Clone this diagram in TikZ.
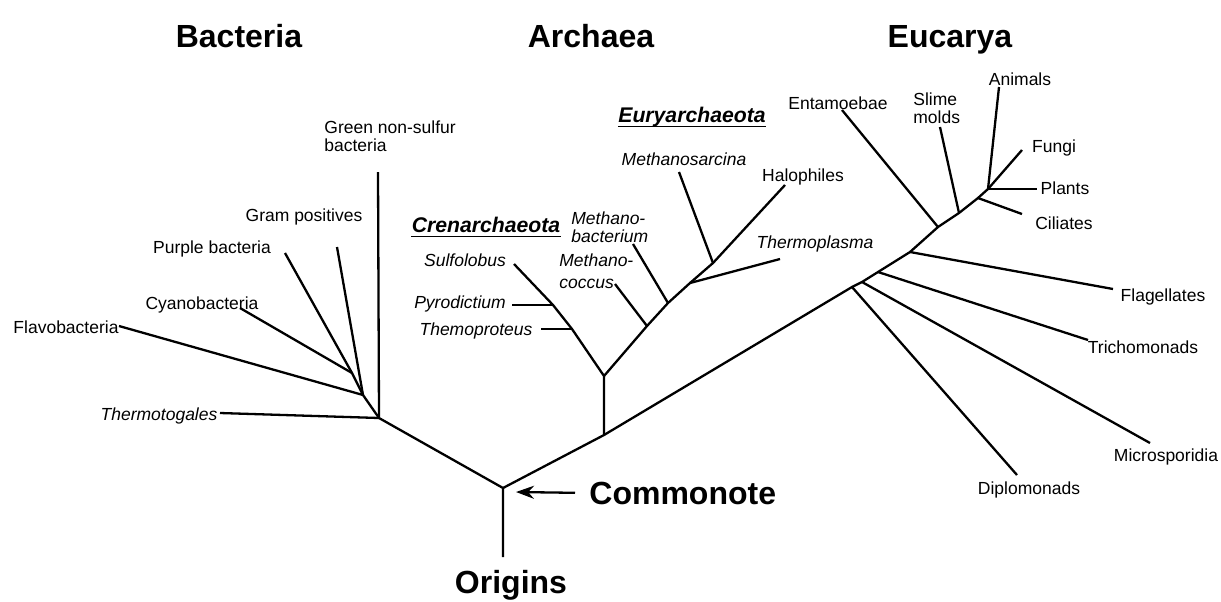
\documentclass[tikz,border=0pt]{standalone}
\usepackage{fontspec}
\setmainfont{Liberation Sans}
\usetikzlibrary{arrows.meta,positioning,calc}
\definecolor{Ink}{HTML}{000000}
\newcommand{\Leaf}[4]{%
  \node[#1] (#2) at (#3) {#4};%
}

\begin{document}
\begin{tikzpicture}[x=0.5pt,y=-0.5pt,
  branch/.style={Ink,line width=1.15pt,line join=round},
  taxon/.style={inner sep=0pt,anchor=base,text=Ink,font=\fontsize{8.75}{9}\selectfont},
  genus/.style={taxon,font=\fontsize{8.75}{9}\selectfont\itshape},
  realm/.style={inner sep=0pt,anchor=base,text=Ink,font=\fontsize{16}{18}\selectfont\bfseries},
  phylum/.style={inner sep=0pt,anchor=base,text=Ink,font=\fontsize{10.6}{12}\selectfont\bfseries\itshape}]
\useasboundingbox (0,0) rectangle (1221,601);
\fill[white] (0,0) rectangle (1221,601);

% tree points
\coordinate (orig) at (503,557);
\coordinate (com) at (503,488);
\coordinate (bj) at (379,418);
\coordinate (bf) at (363,395);
\coordinate (bc) at (352,373);
\coordinate (aj) at (604,435);
\coordinate (arc) at (604,376);
\coordinate (thj) at (572,329);
\coordinate (pyj) at (553,305);
\coordinate (mcj) at (647,326);
\coordinate (mbj) at (668,303);
\coordinate (tpj) at (690,283);
\coordinate (msj) at (713,263);
\coordinate (dpj) at (852,287);
\coordinate (mij) at (862,282);
\coordinate (trj) at (878,272);
\coordinate (flj) at (910,252);
\coordinate (enj) at (938,227);
\coordinate (slj) at (959,213);
\coordinate (cij) at (978,198);
\coordinate (crown) at (988,189);

% branch tips
\coordinate (tGreen) at (378,172);
\coordinate (tTherm) at (220,413);
\coordinate (tFlavo) at (119,326);
\coordinate (tCyano) at (240,308);
\coordinate (tPurple) at (285,253);
\coordinate (tGram) at (337,247);
\coordinate (tSulfo) at (514,264);
\coordinate (tPyro) at (512,305);
\coordinate (tThemo) at (541,329);
\coordinate (tHalo) at (785,185);
\coordinate (tMcoc) at (615,284);
\coordinate (tMbac) at (633,244);
\coordinate (tMsar) at (679,172);
\coordinate (tTplas) at (780,259);
\coordinate (tDiplo) at (1017,475);
\coordinate (tMicro) at (1150,443);
\coordinate (tTricho) at (1088,340);
\coordinate (tFlag) at (1113,289);
\coordinate (tEntam) at (842,110);
\coordinate (tSlime) at (940,127);
\coordinate (tAnimals) at (999,87);
\coordinate (tFungi) at (1022,150);
\coordinate (tPlants) at (1037,189);
\coordinate (tCiliates) at (1022,214);

% Bacteria
\draw[branch] (orig) -- (com) -- (bj) -- (bf) -- (bc) -- (tPurple);
\draw[branch] (bj) -- (tGreen);
\draw[branch] (bj) -- (tTherm);
\draw[branch] (bf) -- (tFlavo);
\draw[branch] (bf) -- (tGram);
\draw[branch] (bc) -- (tCyano);

% Archaea
\draw[branch] (com) -- (aj) -- (arc) -- (thj) -- (pyj) -- (tSulfo);
\draw[branch] (pyj) -- (tPyro);
\draw[branch] (thj) -- (tThemo);
\draw[branch] (arc) -- (mcj) -- (mbj) -- (tpj) -- (msj) -- (tHalo);
\draw[branch] (mcj) -- (tMcoc);
\draw[branch] (mbj) -- (tMbac);
\draw[branch] (msj) -- (tMsar);
\draw[branch] (tpj) -- (tTplas);

% Eucarya
\draw[branch] (aj) -- (dpj) -- (mij) -- (trj) -- (flj) -- (enj) -- (slj) -- (cij) -- (crown);
\draw[branch] (dpj) -- (tDiplo);
\draw[branch] (mij) -- (tMicro);
\draw[branch] (trj) -- (tTricho);
\draw[branch] (flj) -- (tFlag);
\draw[branch] (enj) -- (tEntam);
\draw[branch] (slj) -- (tSlime);
\draw[branch] (cij) -- (tCiliates);
\draw[branch] (crown) -- (tAnimals);
\draw[branch] (crown) -- (tFungi);
\draw[branch] (crown) -- (tPlants);

% headings
\Leaf{realm}{bact}{239,47}{Bacteria}
\Leaf{realm}{arch}{591,47}{Archaea}
\Leaf{realm}{euca}{950,47}{Eucarya}

% bacteria labels
\Leaf{taxon,anchor=west,align=left}{green}{324,136}{Green non-sulfur\\bacteria}
\Leaf{taxon}{gram}{304,221}{Gram positives}
\Leaf{taxon}{purple}{212,253}{Purple bacteria}
\Leaf{taxon}{cyano}{202,309}{Cyanobacteria}
\Leaf{taxon}{flavo}{66,333}{Flavobacteria}
\Leaf{genus}{thermo}{159,420}{Thermotogales}

% archaea labels
\Leaf{phylum}{cren}{486,232}{Crenarchaeota}
\Leaf{phylum}{eury}{692,122}{Euryarchaeota}
\draw[Ink,line width=0.65pt] ([yshift=-2.3pt]cren.base west) -- ([yshift=-2.3pt]cren.base east);
\draw[Ink,line width=0.65pt] ([yshift=-2.3pt]eury.base west) -- ([yshift=-2.3pt]eury.base east);
\Leaf{genus}{sulfo}{465,266}{Sulfolobus}
\Leaf{genus}{pyro}{460,308}{Pyrodictium}
\Leaf{genus}{themo}{476,335}{Themoproteus}
\Leaf{genus,anchor=west,align=left}{mbac}{571,227}{Methano-\\bacterium}
\Leaf{genus,anchor=west,align=left}{mcoc}{559,271}{Methano-\\[2pt]coccus}
\Leaf{genus}{msar}{684,165}{Methanosarcina}
\Leaf{taxon}{halo}{803,181}{Halophiles}
\Leaf{genus}{tplas}{815,248}{Thermoplasma}

% eucarya labels
\Leaf{taxon}{entam}{838,109}{Entamoebae}
\Leaf{taxon,anchor=west,align=left}{slime}{913,108}{Slime\\molds}
\Leaf{taxon}{animals}{1020,85}{Animals}
\Leaf{taxon}{fungi}{1054,152}{Fungi}
\Leaf{taxon}{plants}{1065,194}{Plants}
\Leaf{taxon}{ciliates}{1064,229}{Ciliates}
\Leaf{taxon}{flag}{1163,301}{Flagellates}
\Leaf{taxon}{tricho}{1143,353}{Trichomonads}
\Leaf{taxon}{micro}{1166,461}{Microsporidia}
\Leaf{taxon}{diplo}{1029,494}{Diplomonads}

% root
\Leaf{realm,anchor=west}{cmn}{589,493}{Commonote}
\Leaf{realm}{origins}{511,593}{Origins}
\coordinate (cmtip) at (516,492);
\draw[Ink,line width=1.15pt,-{Stealth[length=9pt,width=6.5pt]},shorten <=7pt] (cmn.west) -- (cmtip);
\end{tikzpicture}
\end{document}
